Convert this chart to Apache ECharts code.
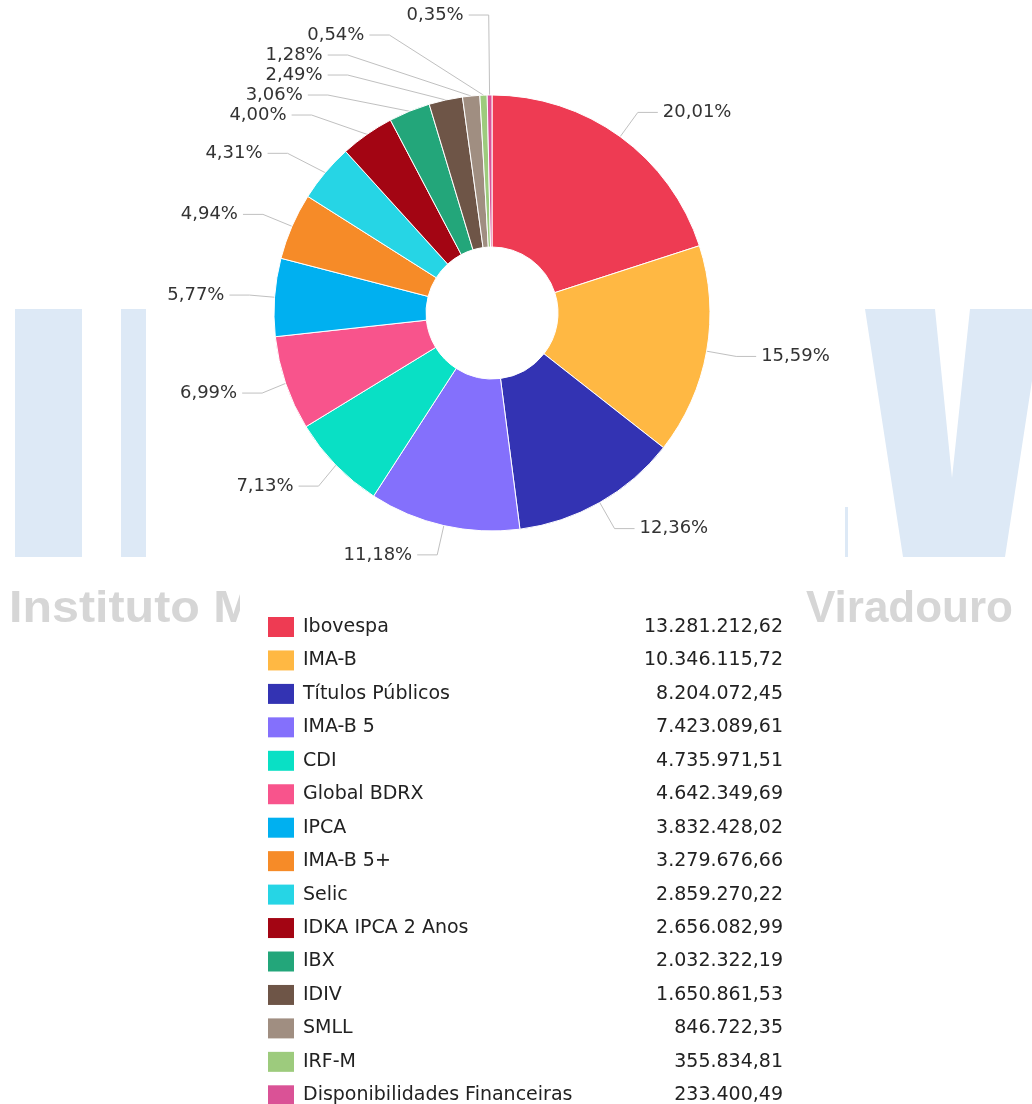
<!DOCTYPE html>
<html>
<head>
<meta charset="utf-8">
<script src="https://cdn.jsdelivr.net/npm/echarts@6/dist/echarts.min.js"></script>
<style>
html,body{margin:0;padding:0;background:#fff;}
#chart{width:1032px;height:1104px;}
</style>
</head>
<body>
<div id="chart"></div>
<script>
const categories = ['Ibovespa','IMA-B','Títulos Públicos','IMA-B 5','CDI','Global BDRX','IPCA','IMA-B 5+','Selic','IDKA IPCA 2 Anos','IBX','IDIV','SMLL','IRF-M','Disponibilidades Financeiras'];
const values = [13281212.62,10346115.72,8204072.45,7423089.61,4735971.51,4642349.69,3832428.02,3279676.66,2859270.22,2656082.99,2032322.19,1650861.53,846722.35,355834.81,233400.49];
const colors = ['#EE3B53','#FFB843','#3333B3','#8470FC','#09E0C5','#F8548C','#00B0F0','#F68B28','#26D5E5','#A30513','#23A67A','#6E5547','#A08E81','#9DCB7D','#DA5296'];

const total = values.reduce((a,b)=>a+b,0);
function fmtBR(v){
  const parts = v.toFixed(2).split('.');
  const int = parts[0].replace(/\B(?=(\d{3})+(?!\d))/g,'.');
  return int + ',' + parts[1];
}
function fmtPct(v){ return (v/total*100).toFixed(2).replace('.',',') + '%'; }
const valueByName = {};
categories.forEach((c,i)=>valueByName[c]=values[i]);

const chart = echarts.init(document.getElementById('chart'), null, {renderer:'canvas'});
const wm = '#dde9f6';
const FONT = '"DejaVu Sans", Verdana, sans-serif';
chart.setOption({
  backgroundColor:'#fff',
  animation:false,
  color: colors,
  graphic: [
    {type:'rect', z:-10, shape:{x:15,y:309,width:67,height:248}, style:{fill:wm}},
    {type:'rect', z:-10, shape:{x:121,y:309,width:25,height:248}, style:{fill:wm}},
    {type:'rect', z:-10, shape:{x:845,y:507,width:3,height:50}, style:{fill:wm}},
    {type:'polygon', z:-10, shape:{points:[[865,309],[935,309],[952,478],[970,309],[1043,309],[1005,557],[903,557]]}, style:{fill:wm}},
    {type:'text', z:-9, x:9, y:610, scaleX:1.1, style:{text:'Instituto Municipal', fill:'#d6d6d6', font:'bold 44px "Liberation Sans", Arial, sans-serif', textVerticalAlign:'middle'}},
    {type:'text', z:-9, x:1013, y:610, style:{text:'Viradouro', fill:'#d6d6d6', font:'bold 44px "Liberation Sans", Arial, sans-serif', textAlign:'right', textVerticalAlign:'middle'}}
  ],
  legend: {
    orient:'vertical',
    left:240, top:582,
    height:540,
    padding:[35,14,0,28],
    backgroundColor:'#fff',
    itemWidth:26, itemHeight:20, itemGap:13.45,
    icon:'rect',
    itemStyle:{borderWidth:0},
    data: categories,
    formatter: function(name){ return '{n|' + name + '}{v|' + fmtBR(valueByName[name]) + '}'; },
    textStyle:{
      fontFamily:FONT, fontSize:19, color:'#222', lineHeight:20, height:20,
      rich:{
        n:{width:300, fontSize:19, lineHeight:20, height:20, padding:[0,0,0,4], fontFamily:FONT, color:'#222'},
        v:{width:180, align:'right', fontSize:19, lineHeight:20, height:20, fontFamily:FONT, color:'#222'}
      }
    }
  },
  series: [{
    type:'pie',
    center:[492,313],
    radius:[66,218],
    startAngle:90,
    clockwise:true,
    itemStyle:{borderColor:'#fff', borderWidth:1},
    emphasis:{disabled:true},
    label:{
      show:true,
      formatter: p => fmtPct(p.value),
      fontFamily:FONT,
      fontSize:18,
      color:'#333'
    },
    labelLine:{show:true, length:30, length2:20, lineStyle:{color:'#c0c0c0', width:1}},
    data: categories.map((c,i)=>{
      const item = {name:c, value:values[i]};
      if (values[i]/total < 0.015) item.labelLine = {length:80};
      return item;
    })
  }]
});
</script>
</body>
</html>
